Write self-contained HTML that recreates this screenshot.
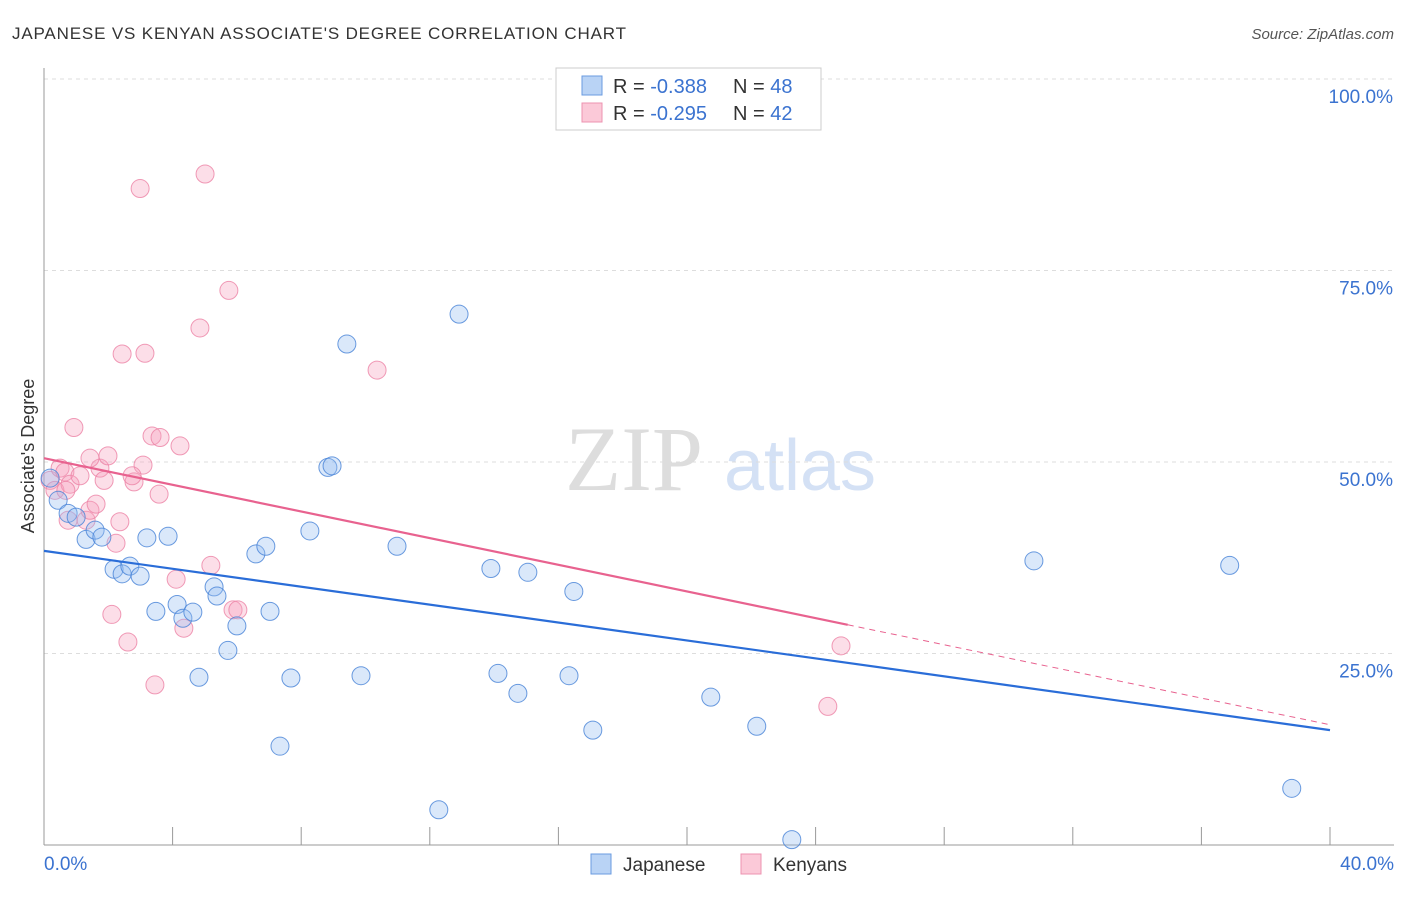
<!DOCTYPE html>
<html><head><meta charset="utf-8"><style>
body{margin:0;background:#fff;width:1406px;height:892px;overflow:hidden;font-family:"Liberation Sans",sans-serif}
</style></head><body>
<svg id="chart" width="1406" height="892" xmlns="http://www.w3.org/2000/svg">
<text x="12" y="39" font-size="17" fill="#333" textLength="614" lengthAdjust="spacing">JAPANESE VS KENYAN ASSOCIATE'S DEGREE CORRELATION CHART</text>
<text x="1394" y="39" font-size="15" fill="#555" text-anchor="end" font-style="italic">Source: ZipAtlas.com</text>
<text transform="translate(34,456) rotate(-90)" font-size="18" fill="#333" text-anchor="middle">Associate's Degree</text>
<g><text x="634" y="490" font-size="92" fill="#ddd" font-family="Liberation Serif,serif" text-anchor="middle">ZIP</text><text x="800" y="490" font-size="72" fill="#d4e1f5" text-anchor="middle">atlas</text></g>
<g id="grid"></g><g id="axes"></g><g id="pts"></g><g id="lines"></g>
<g>
<rect x="556" y="68" width="265" height="62" fill="#fff" stroke="#ccc"/>
<rect x="582" y="76" width="20" height="19" fill="#b9d3f5" stroke="#6a9be0"/>
<rect x="582" y="103" width="20" height="19" fill="#fbc9d8" stroke="#ec93b0"/>
<text x="613" y="93" font-size="20" fill="#333">R = <tspan fill="#3b73d0">-0.388</tspan><tspan x="733">N = </tspan><tspan fill="#3b73d0">48</tspan></text>
<text x="613" y="120" font-size="20" fill="#333">R = <tspan fill="#3b73d0">-0.295</tspan><tspan x="733">N = </tspan><tspan fill="#3b73d0">42</tspan></text>
</g>
<g>
<rect x="591" y="854" width="20" height="20" fill="#b9d3f5" stroke="#6a9be0"/><text x="623" y="871" font-size="19" fill="#333">Japanese</text>
<rect x="741" y="854" width="20" height="20" fill="#fbc9d8" stroke="#ec93b0"/><text x="773" y="871" font-size="19" fill="#333">Kenyans</text>
</g>
</svg>
<script>
const japX=[0.19,0.44,0.75,1.0,1.31,1.59,1.80,2.18,2.43,2.67,2.99,3.20,3.48,3.86,4.14,4.32,4.63,4.82,5.29,5.38,5.72,6.00,6.59,6.90,7.03,7.34,7.68,8.27,8.83,8.96,9.42,9.86,10.98,12.28,12.91,13.90,14.12,14.74,15.05,16.33,16.48,17.07,20.74,22.17,23.26,30.79,36.88,38.81];
const japY=[47.9,45.0,43.3,42.8,39.9,41.1,40.2,36.0,35.4,36.4,35.1,40.1,30.5,40.3,31.4,29.6,30.4,21.9,33.7,32.5,25.4,28.6,38.0,39.0,30.5,12.9,21.8,41.0,49.3,49.5,65.4,22.1,39.0,4.6,69.3,36.1,22.4,19.8,35.6,22.1,33.1,15.0,19.3,15.5,0.7,37.1,36.5,7.4];
const kenX=[0.19,0.34,0.50,0.65,0.81,0.93,1.12,1.31,1.43,1.74,1.87,1.99,2.11,2.24,2.36,2.43,2.61,2.80,2.99,3.08,3.14,3.36,3.45,3.58,3.61,4.11,4.23,4.35,4.85,5.01,5.19,5.75,5.88,6.03,10.36,24.38,24.79,1.43,1.62,0.75,2.74,0.68];
const kenY=[47.6,46.3,49.2,48.7,47.1,54.5,48.2,42.4,43.7,49.2,47.6,50.8,30.1,39.4,42.2,64.1,26.5,47.4,85.7,49.6,64.2,53.4,20.9,45.8,53.2,34.7,52.1,28.3,67.5,87.6,36.5,72.4,30.7,30.7,62.0,18.1,26.0,50.5,44.5,42.4,48.2,46.3];
const japTrend=[38.4,15.0];
const kenTrend=[50.5,15.7];
const kenSolidEnd=25.0;
const yTicks=[25,50,75,100];
const xTickLabels=["0.0%","40.0%"];
const NS="http://www.w3.org/2000/svg";
const X0=44,X1=1330,Y0=845,Y100=79;
const sx=v=>X0+(v/40)*(X1-X0);
const sy=v=>Y0-(v/100)*(Y0-Y100);
function mk(t,a,p){const e=document.createElementNS(NS,t);for(const k in a)e.setAttribute(k,a[k]);p.appendChild(e);return e;}
const grid=document.getElementById('grid'),axes=document.getElementById('axes'),pts=document.getElementById('pts'),lines=document.getElementById('lines');
yTicks.forEach(v=>{
 const l=mk('line',{x1:X0,x2:1394,y1:sy(v),y2:sy(v),stroke:'#ddd','stroke-dasharray':'4,4'},grid);
 
 
 const t=mk('text',{x:1393,y:sy(v)+24,'font-size':19,fill:'#3b73d0','text-anchor':'end'},grid);
 t.textContent=v.toFixed(1)+'%';
 
 
});
const ya=mk('line',{x1:X0,x2:X0,y1:68,y2:Y0,stroke:'#999'},axes);


const xa=mk('line',{x1:X0,x2:1394,y1:Y0,y2:Y0,stroke:'#999'},axes);


for(let i=0;i<=10;i++){const x=sx(i*4);const t=mk('line',{x1:x,x2:x,y1:Y0,y2:Y0-18,stroke:'#999'},axes);
 
 }
const l0=mk('text',{x:44,y:870,'font-size':19,fill:'#3b73d0'},axes);l0.textContent=xTickLabels[0];


const l1=mk('text',{x:1394,y:870,'font-size':19,fill:'#3b73d0','text-anchor':'end'},axes);l1.textContent=xTickLabels[1];


kenX.forEach((x,i)=>{const c=mk('circle',{cx:sx(x),cy:sy(kenY[i]),r:9,fill:'rgba(246,160,190,0.35)',stroke:'rgba(236,130,165,0.8)'},pts);
 
 });
japX.forEach((x,i)=>{const c=mk('circle',{cx:sx(x),cy:sy(japY[i]),r:9,fill:'rgba(150,190,240,0.35)',stroke:'rgba(70,130,215,0.8)'},pts);
 
 });
const jl=mk('line',{x1:sx(0),y1:sy(japTrend[0]),x2:sx(40),y2:sy(japTrend[1]),stroke:'#2a6dd8','stroke-width':2.2},lines);


const kAt=v=>kenTrend[0]+(kenTrend[1]-kenTrend[0])*v/40;
const kl=mk('line',{x1:sx(0),y1:sy(kAt(0)),x2:sx(kenSolidEnd),y2:sy(kAt(kenSolidEnd)),stroke:'#e8628f','stroke-width':2.2},lines);


const kd=mk('line',{x1:sx(kenSolidEnd),y1:sy(kAt(kenSolidEnd)),x2:sx(40),y2:sy(kAt(40)),stroke:'#e8628f','stroke-width':1,'stroke-dasharray':'6,5'},lines);


</script>
</body></html>
